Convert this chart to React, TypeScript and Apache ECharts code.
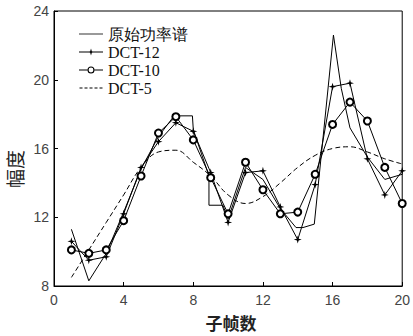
import React, { useEffect, useRef } from "react";
import * as echarts from "echarts";

const frames = [1, 2, 3, 4, 5, 6, 7, 8, 9, 10, 11, 12, 13, 14, 15, 16, 17, 18, 19, 20];
const dct12 = [10.6, 9.5, 9.7, 12.2, 14.9, 16.4, 17.5, 17.0, 14.6, 11.7, 14.6, 14.7, 12.6, 10.7, 13.9, 19.6, 19.8, 15.4, 13.3, 14.7];
const dct10 = [10.1, 9.9, 10.1, 11.8, 14.4, 16.9, 17.85, 16.5, 14.3, 12.2, 15.2, 13.6, 12.2, 12.3, 14.5, 17.4, 18.7, 17.6, 14.9, 12.8];
const dct5 = [8.5, 10.1, 11.7, 13.3, 14.9, 15.8, 15.9, 15.2, 14.4, 13.3, 12.8, 13.2, 14.0, 14.9, 15.6, 16.0, 16.1, 15.8, 15.4, 15.1];
const origX = [1, 2, 3, 4, 5, 6, 6.9, 7.95, 8, 8.9, 8.9, 9.7, 10, 11, 12, 13, 13.9, 14.3, 14.95, 16.05, 16.5, 17, 18, 19, 20];
const origY = [11.3, 8.3, 9.9, 12.3, 14.8, 16.7, 17.9, 17.9, 17.1, 14.4, 12.7, 12.7, 11.9, 14.9, 14.2, 12.5, 11.4, 11.4, 11.6, 22.6, 19.5, 17.2, 15.5, 14.2, 14.5];
const xTicks = { min: 0, max: 20, interval: 4 };
const yTicks = { min: 8, max: 24, interval: 4 };
const names = ["原始功率谱", "DCT-12", "DCT-10", "DCT-5"];

const starPath = "path://M0,-6 L1.3,-1.3 L6,0 L1.3,1.3 L0,6 L-1.3,1.3 L-6,0 L-1.3,-1.3 Z";
const solidIcon = "path://M0,3.6H24V4.4H0Z";
const starIcon =
  "path://M0,3.6H24V4.4H0Z M12,0.5 L12.8,3.2 L15.5,4 L12.8,4.8 L12,7.5 L11.2,4.8 L8.5,4 L11.2,3.2 Z";
const circleIcon =
  "path://M0,3.6H8.6V4.4H0Z M15.4,3.6H24V4.4H15.4Z M8.5,4 A3.5,3.5 0 1 0 15.5,4 A3.5,3.5 0 1 0 8.5,4 Z M9.6,4 A2.4,2.4 0 1 1 14.4,4 A2.4,2.4 0 1 1 9.6,4 Z";
const dashedIcon =
  "path://M0,3.6H3V4.4H0Z M5,3.6H8V4.4H5Z M10,3.6H13V4.4H10Z M15,3.6H18V4.4H15Z M20,3.6H23V4.4H20Z M0,0H0.01V0.01H0Z M0,8H0.01V7.99H0Z";
const serifFont = "'Liberation Serif', 'Times New Roman', 'DejaVu Serif', serif";
const sansFont = "'Liberation Sans', Arial, sans-serif";
const iconStyle = { color: "#000", borderWidth: 0, opacity: 1 };

export default function App() {
  const ref = useRef<HTMLDivElement>(null);
  useEffect(() => {
    const chart = echarts.init(ref.current!, null, { renderer: "svg" });
    const pair = (xs: number[], ys: number[]) => xs.map((x, i) => [x, ys[i]]);
    chart.setOption({
      animation: false,
      backgroundColor: "#fff",
      textStyle: { fontFamily: serifFont },
      grid: { left: 54, right: 9, top: 11, bottom: 50, show: true, borderColor: "#000", borderWidth: 1 },
      legend: {
        orient: "vertical",
        left: 74,
        top: 20,
        itemGap: 0,
        itemWidth: 24,
        itemHeight: 8,
        symbolKeepAspect: true,
        data: [
          { name: names[0], icon: solidIcon, itemStyle: iconStyle },
          { name: names[1], icon: starIcon, itemStyle: iconStyle },
          { name: names[2], icon: circleIcon, itemStyle: iconStyle },
          { name: names[3], icon: dashedIcon, itemStyle: iconStyle },
        ],
        textStyle: { fontFamily: serifFont, fontSize: 16, fontWeight: "normal", color: "#111", lineHeight: 18 },
      },
      xAxis: {
        type: "value",
        min: xTicks.min,
        max: xTicks.max,
        interval: xTicks.interval,
        axisLine: { lineStyle: { color: "#000", width: 1 } },
        axisTick: { inside: true, length: 4, lineStyle: { color: "#000" } },
        axisLabel: { fontFamily: sansFont, fontSize: 14, color: "#444", margin: 7 },
        splitLine: { show: false },
      },
      yAxis: {
        type: "value",
        min: yTicks.min,
        max: yTicks.max,
        interval: yTicks.interval,
        axisLine: { show: true, lineStyle: { color: "#000", width: 1 } },
        axisTick: { show: true, inside: true, length: 4, lineStyle: { color: "#000" } },
        axisLabel: { fontFamily: sansFont, fontSize: 14, color: "#444", margin: 5 },
        splitLine: { show: false },
      },
      graphic: [
        {
          type: "text",
          x: 231,
          y: 322,
          style: {
            text: "子帧数",
            fontFamily: "'Noto Sans CJK SC', sans-serif",
            fontSize: 17,
            fontWeight: "bold",
            fill: "#222",
            align: "center",
            verticalAlign: "middle",
          },
        },
        {
          type: "text",
          x: 14,
          y: 169,
          rotation: Math.PI / 2,
          style: {
            text: "幅度",
            fontFamily: "'Noto Sans CJK SC', sans-serif",
            fontSize: 19,
            fill: "#222",
            align: "center",
            verticalAlign: "middle",
          },
        },
      ],
      series: [
        {
          name: names[0],
          type: "line",
          data: pair(origX, origY),
          showSymbol: false,
          symbol: "none",
          lineStyle: { color: "#000", width: 1 },
          itemStyle: { color: "#000" },
        },
        {
          name: names[1],
          type: "line",
          data: pair(frames, dct12),
          symbol: starPath,
          symbolSize: 8,
          lineStyle: { color: "#000", width: 1 },
          itemStyle: { color: "#000" },
        },
        {
          name: names[2],
          type: "line",
          data: pair(frames, dct10),
          symbol: "emptyCircle",
          symbolSize: 7,
          lineStyle: { color: "#000", width: 1 },
          itemStyle: { color: "#000", borderColor: "#000", borderWidth: 1 },
        },
        {
          name: names[3],
          type: "line",
          data: pair(frames, dct5),
          showSymbol: false,
          symbol: "none",
          smooth: 0.4,
          lineStyle: { color: "#000", width: 1, type: [5, 3] },
          itemStyle: { color: "#000" },
        },
      ],
    });
    return () => chart.dispose();
  }, []);
  return <div ref={ref} style={{ width: 413, height: 336, position: "absolute", left: 0, top: 0 }} />;
}
